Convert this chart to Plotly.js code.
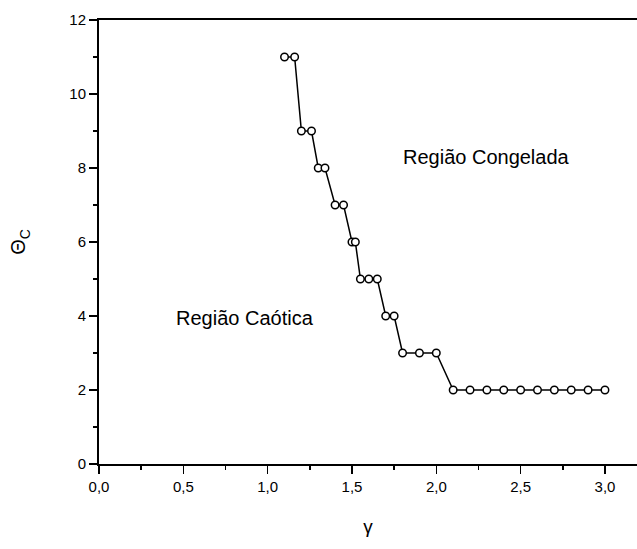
<!DOCTYPE html>
<html>
<head>
<meta charset="utf-8">
<script src="https://cdn.plot.ly/plotly-3.0.1.min.js"></script>
<style>
  html, body { margin: 0; padding: 0; background: #fff; }
  #chart { width: 637px; height: 549px; }
</style>
</head>
<body>
<div id="chart"></div>
<script>
// Critical threshold Θc versus γ
const gamma = [1.10, 1.16, 1.20, 1.26, 1.30, 1.34, 1.40, 1.45, 1.50, 1.52,
               1.55, 1.60, 1.65, 1.70, 1.75, 1.80, 1.90, 2.00,
               2.10, 2.20, 2.30, 2.40, 2.50, 2.60, 2.70, 2.80, 2.90, 3.00];
const thetaC = [11, 11, 9, 9, 8, 8, 7, 7, 6, 6,
                5, 5, 5, 4, 4, 3, 3, 3,
                2, 2, 2, 2, 2, 2, 2, 2, 2, 2];

const xTicks = [0, 0.5, 1.0, 1.5, 2.0, 2.5, 3.0];
const yTicks = [0, 2, 4, 6, 8, 10, 12];

const regionLabels = ['Região Congelada', 'Região Caótica'];
const regionX = [2.295, 0.865];
const regionY = [8.3, 3.95];

const font = 'Arial, "Liberation Sans", sans-serif';

const trace = {
  x: gamma,
  y: thetaC,
  type: 'scatter',
  mode: 'lines+markers',
  line: { color: '#000', width: 1.5 },
  marker: { symbol: 'circle', size: 7.5, color: '#fff', line: { color: '#000', width: 1.5 } },
  hoverinfo: 'skip'
};

const layout = {
  width: 637,
  height: 549,
  margin: { l: 99, r: 0, t: 20, b: 85 },
  paper_bgcolor: '#fff',
  plot_bgcolor: '#fff',
  showlegend: false,
  separators: ', ',
  font: { family: font, color: '#000', size: 15 },
  xaxis: {
    range: [0, 3.19],
    tickvals: xTicks,
    tickformat: '.1f',
    ticks: 'outside',
    ticklen: 8,
    tickwidth: 1.5,
    tickcolor: '#000',
    minor: { ticks: 'outside', ticklen: 4, tickwidth: 1.5, tickcolor: '#000', dtick: 0.25, tick0: 0 },
    showline: true,
    linecolor: '#000',
    linewidth: 2,
    mirror: true,
    showgrid: false,
    zeroline: false,
    tickfont: { size: 15 },
    title: { text: 'γ', font: { size: 19 }, standoff: 26 }
  },
  yaxis: {
    range: [0, 12],
    tickvals: yTicks,
    ticks: 'outside',
    ticklen: 8,
    tickwidth: 1.5,
    tickcolor: '#000',
    minor: { ticks: 'outside', ticklen: 4, tickwidth: 1.5, tickcolor: '#000', dtick: 1, tick0: 0 },
    showline: true,
    linecolor: '#000',
    linewidth: 2,
    showgrid: false,
    zeroline: false,
    tickfont: { size: 15 },
    title: { text: 'Θ<sub>C</sub>', font: { size: 20 }, standoff: 38 }
  },
  annotations: regionLabels.map((t, i) => ({
    text: t,
    x: regionX[i],
    y: regionY[i],
    xref: 'x',
    yref: 'y',
    showarrow: false,
    xanchor: 'center',
    yanchor: 'middle',
    font: { family: font, size: 20, color: '#000' }
  }))
};

Plotly.newPlot('chart', [trace], layout, { staticPlot: true, displayModeBar: false });
</script>
</body>
</html>
